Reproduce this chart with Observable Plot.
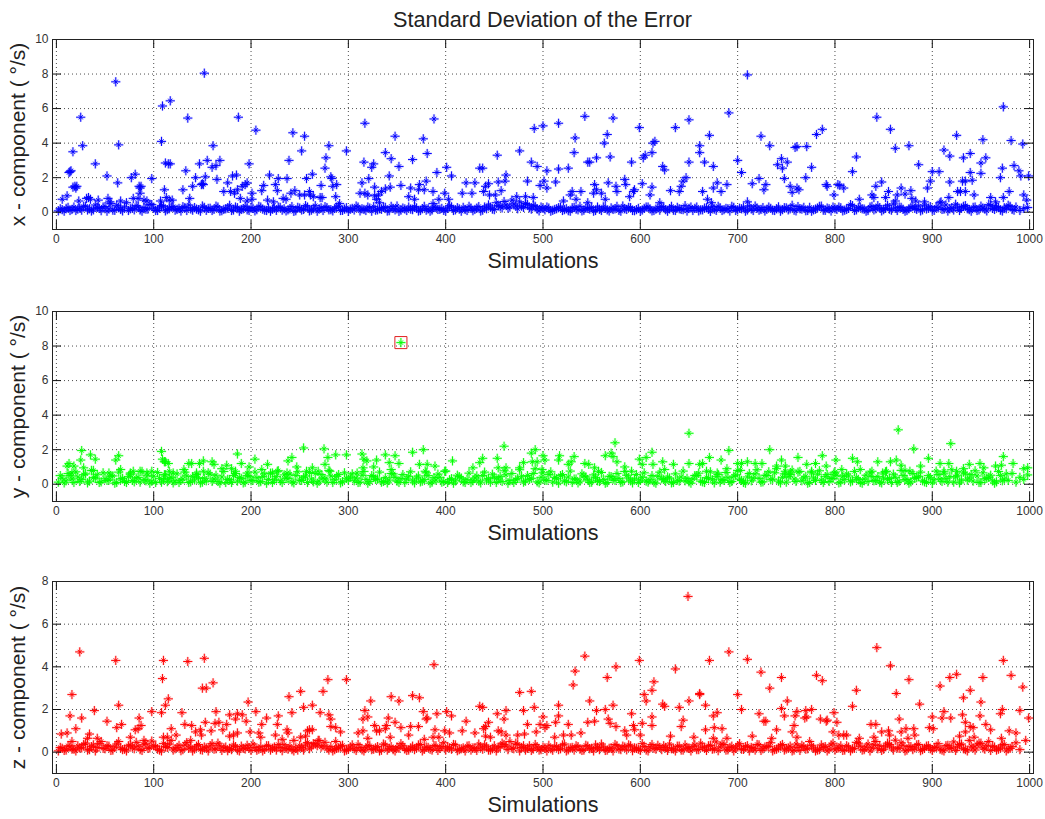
<!DOCTYPE html>
<html><head><meta charset="utf-8">
<script src="https://cdn.jsdelivr.net/npm/d3@7"></script>
<script src="https://cdn.jsdelivr.net/npm/@observablehq/plot@0.6"></script>
<style>
html,body{margin:0;padding:0;background:#fff;overflow:hidden}
#title{height:30px;margin-left:52px;width:981px;box-sizing:border-box;padding-top:8px;text-align:center;font:21.7px/24px "Liberation Sans",sans-serif;color:#222}
svg{display:block}
</style></head><body>
<div id="title">Standard Deviation of the Error</div>
<script>
const simTicks=[0,100,200,300,400,500,600,700,800,900,1000];
const xTicksY=[0,2,4,6,8,10], yTicksY=[0,2,4,6,8,10], zTicksY=[0,2,4,6,8];
const xLabel="x - component ( °/s)", yLabel="y - component ( °/s)", zLabel="z - component ( °/s)";

const xPeaks=[[6,.75],[11,.95],[13,2.3],[14,2.35],[15,2.4],[17,3.5],[17,1.45],[19,1.5],[20,1.4],[21,1.5],[25,5.5],[27,3.85],[23,.65],[31,.8],[33,.85],[35,.75],[40,2.8],[43,.7],[52,2.1],[53,.8],[55,.6],[61,7.55],[63,1.7],[64,3.9],[66,.65],[77,2],[81,2.2],[79,.8],[85,1.5],[86,1.4],[87,1.5],[86,1.1],[84,.8],[90,.7],[93,.65],[98,1.95],[107,.65],[108,4.1],[109,6.15],[111,1.3],[112,2.85],[115,2.8],[117,2.8],[113,.85],[116,.7],[119,.7],[117,6.45],[130,1.3],[133,2.4],[135,5.45],[137,.8],[140,1.5],[143,2],[147,2.8],[149,1.6],[150,1.65],[151,1.6],[152,8.05],[153,2.05],[155,3],[160,2.6],[161,3.85],[164,2.7],[165,1.9],[168,3],[172,1.2],[176,1.7],[179,1.2],[181,2.1],[183,1.1],[185,2.15],[186,1.3],[187,5.5],[189,.8],[191,1.5],[194,1.6],[196,1.7],[196,.65],[198,2.8],[201,1.1],[201,.75],[205,4.75],[211,1.25],[213,1.55],[217,.7],[219,2.15],[223,.6],[225,1.6],[227,1.25],[228,1.95],[233,.8],[236,.75],[237,1.95],[239,3],[241,1.1],[243,4.6],[245,1.25],[250,1],[252,3.55],[255,4.4],[255,1],[257,1.95],[260,1.2],[261,1],[263,2.2],[264,.9],[272,1.55],[271,.85],[273,.85],[276,2.55],[277,3.15],[280,3.85],[282,2.05],[283,1.95],[284,1.5],[287,.9],[288,1.6],[291,.5],[298,3.55],
[317,5.15],[316,2.9],[326,2.8],[324,2.6],[321,1.95],[314,1.7],[312,1.1],[317,1.1],[320,1],[327,1.45],[334,1.2],[331,1],[327,.95],[329,.75],[332,.55],[338,3.45],[344,3.1],[352,2.65],[348,4.4],[342,2.1],[343,1.45],[338,1.35],[354,1.55],[362,.9],[364,1.4],[368,.75],[373,1.6],[372,1.3],[378,1.3],[380,1.8],[366,3.05],[377,4.25],[381,3.4],[388,5.4],[391,2.3],[387,1.2],[393,.75],[399,1.1],[403,.75],[401,2.6],[406,2.1],[387,.5],[417,1.1],[421,1.7],[427,1.1],[430,1.7],[435,2.55],[438,2.55],[439,1.2],[441,1.5],[444,1.65],[445,1],[451,1],[457,1.25],[454,1.75],[453,3.3],[461,1.8],[462,2.15],[473,.9],[476,3.55],[482,.9],[490,.85],[484,1.8],[488,2.9],[494,2.65],[491,4.85],[500,5],[497,1.55],[501,1.8],[504,1.4],[504,2.4],[516,5.15],[516,2.5],[526,2.55],[513,1.75],[533,4.3],[532,3.45],[528,1],[530,1.2],[539,1.2],[534,.75],[521,.65],[543,5.55],[546,2.9],[548,2.9],[555,3.15],[553,1.6],[555,1.3],[552,1.1],[560,1.1],[564,.75],[546,.55],[563,4],[566,4.5],[572,5.45],[569,3.2],[567,1.7],[575,1.5],[576,1.2],[584,1.9],[585,1.6],[591,2.9],[589,.9],[593,1.2],[594,1.3],[599,4.9],[602,1.65],[603,3.15],[605,3.3],[612,3.45],[613,4],[615,4.1],[612,1.45],[610,1],[620,.55],[623,2.65],[625,2.45],[631,1.25],[636,4.9],[640,1.2],[642,1.5],[644,1.8],[647,2],[650,2.9],[650,5.35],
[661,3.85],[661,3.45],[671,4.45],[666,2.9],[675,2.65],[664,1.2],[669,.75],[673,.55],[675,1.4],[679,1.7],[683,1.2],[689,1.6],[691,5.75],[700,3],[704,2.3],[710,7.95],[710,.6],[715,1.65],[722,1.95],[724,4.4],[727,1.3],[729,1.6],[733,3.85],[741,2.75],[745,3.1],[746,2.55],[751,2.9],[748,1.95],[754,1.5],[756,1.15],[761,1.4],[763,1.3],[759,3.75],[761,3.8],[771,3.8],[770,2],[776,2.6],[781,4.5],[787,4.8],[791,1.6],[792,1.5],[799,1],[803,1.6],[805,1.55],[809,1.4],[818,2.35],[822,3.2],[825,.75],[838,1],[840,.85],[842,1.5],[848,1.75],[843,5.5],[857,4.8],[862,3.7],[852,.85],[855,1.2],[862,.65],[864,1],[868,1.4],[872,1.05],[878,1.25],[879,.8],[876,3.85],[883,.65],[886,2.75],[892,.6],[895,1.4],[898,1.8],[900,2.35],[907,2.35],[909,.6],[917,.85],[918,1.75],[912,3.6],[918,3.25],[925,4.45],[926,1.2],[929,1.2],[934,1.2],[931,1.8],[934,1.8],[932,3.15],[939,3.4],[939,2.3],[941,1.85],[943,1],[950,2.25],[950,2.85],[955,3.15],[952,4.2],[960,.85],[965,.6],[970,2],[972,2.55],[973,.85],[973,6.1],[979,1.2],[981,4.15],[984,2.7],[989,2.4],[991,2.1],[993,3.95],[994,1],[997,.7],[999,2.1]];

const yPeaks=[[26,1.95],[35,1.7],[40,1.45],[25,1.4],[28,.95],[38,.8],[11,1.05],[13,1.2],[18,1.05],[16,.65],[61,1.4],[64,1.65],[66,.85],[54,.65],[76,.65],[79,.75],[86,.75],[93,.65],[98,.75],[108,1.9],[109,1.45],[111,1.3],[112,1.3],[115,1.2],[111,.55],[116,.75],[120,.65],[131,.85],[136,1.2],[139,1.2],[147,1.2],[151,1.35],[160,1.3],[162,1.15],[151,.75],[144,.65],[170,.9],[175,1.1],[180,.9],[184,.75],[186,1.75],[190,1.2],[198,1],[196,.65],[204,1.45],[211,.85],[217,1.15],[222,.65],[227,.75],[237,.65],[238,1.35],[242,1.55],[247,1],[254,2.1],[257,.75],[263,.95],[269,.75],[275,2.05],[276,1.15],[279,1.55],[281,.75],[287,1.7],[298,1.7],[309,.65],
[314,1.75],[316,1.45],[319,1.35],[315,.95],[326,1],[329,1.4],[338,1.7],[342,1.25],[348,1.65],[352,1.2],[344,.85],[366,1.85],[377,2],[373,1.15],[381,1.15],[389,1.05],[379,.75],[399,.75],[407,1.35],[428,.95],[435,1.25],[438,1.5],[453,1.5],[454,.95],[462,.95],[460,2.2],[476,.95],[480,1.25],[488,1.8],[492,2],[489,1.3],[494,1.3],[500,1.65],[502,1.4],[499,.85],[516,1.4],[517,1.65],[526,1.15],[529,1.3],[532,1.6],[543,1.2],[547,1.15],[553,.95],[557,.75],[564,1.65],[570,1.8],[572,1.6],[574,2.4],[576,1.3],[584,1],[591,.75],[599,1.45],[602,1.15],[606,1.55],[612,1.85],[613,1.15],[623,1.3],[634,1.15],[650,2.95],[650,1.2],[625,.85],
[661,1.15],[664,1.2],[671,1.55],[683,1.4],[691,1.95],[689,.9],[668,.75],[679,.65],[700,1.2],[704,1.2],[703,.8],[710,1.3],[718,1.2],[725,1.2],[733,2],[740,1.05],[745,1.4],[749,1.05],[762,1.55],[771,1.15],[780,1.2],[787,1.65],[791,1.05],[776,.75],[799,.65],[801,1.4],[807,.85],[818,1.5],[823,1.3],[826,.85],[844,1.3],[857,1.3],[863,1.4],[865,3.15],[868,1.1],[881,2.05],[888,1.05],[896,1.5],[908,1.2],[917,1.2],[919,2.35],[938,1.15],[949,1.2],[953,.95],[965,1.05],[971,1.1],[973,1.6],[983,1.2],[994,.9],[998,.95],[925,.75],[932,.9],[912,.75],[877,.75],[872,.8],[853,.75],[838,.75],[849,.65],[749,.75],[754,.65]];
const yOutlier=[[354,8.2]];

const zPeaks=[[5,.85],[11,.9],[14,1.7],[16,2.7],[20,1.1],[24,4.7],[26,1.6],[16,.5],[34,.85],[32,.65],[39,1.95],[42,.65],[52,1.45],[61,4.3],[62,1.15],[64,2.2],[67,1.3],[76,.7],[81,1.05],[84,1.1],[85,1.6],[87,1.25],[90,.55],[98,1.9],[108,1.85],[109,3.45],[110,4.3],[112,2.2],[115,2.5],[110,.7],[114,.7],[118,1.1],[123,.8],[129,1.85],[132,1.3],[135,4.25],[139,1.25],[143,.95],[138,.55],[148,1.05],[149,.8],[150,3],[152,4.4],[153,1.4],[154,3],[159,1],[161,3.25],[163,1.35],[164,1.9],[167,1.4],[171,1.05],[175,1.3],[178,1.75],[178,.75],[184,1.55],[186,1.8],[191,1.75],[182,.8],[186,.9],[195,1.45],[197,2.35],[199,.95],[205,1.9],[208,.9],[210,.7],[211,1.3],[216,1.6],[225,.8],[227,1.3],[228,1.7],[232,.6],[237,1.05],[238,.9],[239,2.6],[242,1.85],[244,.55],[251,.7],[251,2.85],[254,2.1],[256,.75],[258,1],[260,1.05],[263,1.05],[263,2.2],[269,.55],[271,1.85],[274,2.85],[279,3.4],[280,1.75],[282,1.55],[282,1.2],[287,1.15],[292,.95],[287,.5],[298,3.4],
[310,.9],[315,1],[320,.65],[317,1.95],[315,1.55],[320,1.65],[323,2.4],[327,1.25],[329,1],[332,1],[338,1.1],[339,1.25],[341,1.6],[343,.7],[344,2.6],[348,1.4],[352,2.4],[354,1.15],[362,.8],[364,1.2],[366,2.65],[372,1.2],[373,2.55],[377,1.9],[378,.6],[380,1.55],[381,1.6],[389,1.05],[387,.7],[388,4.1],[391,1.8],[393,.7],[399,1],[401,1.9],[406,1.7],[404,.9],[417,1],[421,1.45],[430,.9],[435,2.15],[438,2.1],[439,1.1],[441,1.2],[444,1.4],[441,.75],[446,.7],[454,1],[453,1.8],[457,.95],[460,1.55],[462,1.95],[462,.8],[474,.8],[476,2.8],[480,1.95],[481,.85],[484,1.3],[488,2.85],[491,2.1],[493,.95],[497,1.3],[500,1.65],[502,1.15],[504,1.25],[513,1.4],[512,.7],[516,1.7],[516,2.2],[521,.8],[526,1.3],[529,.8],[531,3.15],[533,3.8],[539,.9],[543,4.5],[546,1.4],[548,2.4],[553,1.45],[555,1.95],[564,2],[566,3.5],[567,1.55],[569,1.35],[572,2.2],[575,4],[575,1.2],[584,1],[586,.8],[591,1.8],[593,1.25],[594,1.05],[599,4.3],[600,.8],[602,1.35],[604,2.7],[606,2.4],[612,2.9],[614,3.3],[612,1.65],[612,1.25],[623,2.25],[625,2.15],[631,.75],[636,3.9],[640,2.1],[644,1.5],[642,1.2],[650,2.4],[649,7.3],
[655,.7],[661,2.75],[661,2.7],[667,2.2],[667,1.05],[671,4.3],[675,.65],[675,1.7],[676,1.15],[679,1.85],[684,1.1],[689,.65],[691,4.7],[700,2.7],[704,2],[710,4.35],[715,.75],[722,1.8],[724,3.75],[727,1.45],[729,1.45],[733,3],[735,.65],[740,1.05],[745,3.5],[745,2.05],[748,1.7],[751,2.4],[756,.95],[758,1.25],[759,1.7],[761,1.9],[761,.7],[770,1.95],[769,1.6],[771,1.65],[776,2],[781,3.6],[787,3.35],[785,1.55],[791,1.45],[792,1.5],[799,1.85],[798,.95],[802,1.4],[804,.8],[809,.8],[812,.8],[818,2.15],[822,2.9],[825,.65],[837,1.3],[842,1.3],[840,.7],[843,4.9],[848,.95],[855,1],[856,.8],[857,4.05],[863,2.75],[866,1.55],[868,.95],[873,1.1],[876,3.4],[875,.65],[881,1.1],[882,.8],[887,2.25],[897,1.15],[900,1.65],[901,1.1],[908,3.1],[910,1.6],[912,1.9],[918,3.5],[919,1.6],[925,3.65],[928,.75],[931,1.75],[932,2.55],[934,1.4],[934,.95],[939,2.9],[939,1.2],[942,1.15],[943,.7],[949,1.7],[950,2.35],[952,3.5],[955,1.3],[960,1.05],[970,1.8],[972,2],[971,.65],[973,4.3],[979,1],[981,3.6],[986,.9],[990,1.95],[993,3.05],[996,.55],[999,1.6]];

// Low bands: readings every fourth simulation (A from 2, B from 4)
const xBandA=[.08,.15,.22,.1,.3,.18,.12,.35,.2,.14,.28,.09,.33,.2,.12,.4,.16,.3,.1,.24,.38,.13,.27,.18,.44,.1,.25,.35,.15,.29,.12,.22,.32,.1,.19,.27,.14,.36,.11,.23,.17,.3,.09,.2,.4,.13,.26,.16,.34,.1,.22,.15,.3,.12,.25,.18,.11,.28,.2,.14,.33,.09,.24,.16,.3,.12,.38,.19,.1,.27,.15,.22,.35,.11,.26,.18,.13,.3,.2,.1,.24,.32,.14,.17,.28,.09,.22,.36,.12,.19,.3,.15,.25,.1,.34,.2,.13,.27,.17,.11,.23,.31,.14,.19,.28,.1,.24,.16,.33,.12,.2,.29,.15,.38,.25,.42,.3,.48,.2,.35,.5,.26,.4,.18,.3,.14,.24,.11,.2,.3,.15,.09,.26,.18,.34,.12,.22,.28,.1,.17,.31,.14,.25,.2,.11,.36,.16,.27,.09,.22,.13,.3,.19,.1,.25,.33,.15,.2,.12,.28,.16,.38,.22,.1,.3,.14,.24,.18,.32,.11,.26,.15,.2,.34,.1,.23,.29,.13,.19,.36,.12,.27,.17,.22,.1,.31,.15,.25,.2,.12,.33,.18,.09,.28,.14,.24,.35,.11,.2,.3,.16,.26,.12,.22,.38,.14,.3,.18,.1,.34,.2,.26,.15,.4,.12,.24,.3,.17,.1,.28,.22,.36,.14,.19,.32,.11,.25,.16,.42,.2,.13,.3,.24,.38,.15,.28,.1,.35,.18,.44,.22,.32,.12,.26,.4,.16,.3,.1,.22,.27,.14,.33,.19,.11,.25,.3,.15];
const xBandB=[.2,.06,.28,.16,.1,.24,.34,.13,.07,.42,.22,.3,.06,.5,.11,.26,.08,.55,.2,.14,.3,.06,.18,.46,.24,.1,.38,.08,.2,.32,.16,.07,.27,.42,.12,.18,.06,.28,.22,.1,.35,.07,.16,.24,.1,.3,.06,.2,.14,.27,.08,.34,.18,.1,.06,.24,.3,.12,.08,.2,.05,.28,.13,.38,.08,.2,.06,.26,.32,.14,.08,.3,.1,.18,.06,.22,.36,.08,.16,.3,.06,.12,.2,.28,.07,.34,.14,.05,.24,.1,.18,.32,.07,.2,.12,.06,.3,.16,.22,.08,.38,.1,.26,.06,.16,.34,.09,.24,.07,.3,.42,.18,.55,.32,.62,.24,.7,.36,.6,.28,.46,.18,.34,.08,.22,.3,.06,.16,.26,.1,.2,.06,.28,.14,.08,.24,.18,.06,.3,.1,.22,.07,.16,.34,.06,.2,.28,.1,.15,.07,.22,.3,.08,.18,.12,.26,.06,.34,.1,.2,.15,.07,.3,.22,.08,.14,.26,.05,.18,.34,.1,.22,.07,.28,.14,.2,.06,.36,.1,.24,.16,.07,.3,.12,.2,.06,.26,.14,.4,.08,.2,.28,.1,.06,.18,.34,.12,.24,.07,.2,.3,.08,.16,.44,.1,.26,.2,.06,.3,.14,.38,.08,.22,.18,.48,.1,.28,.06,.2,.34,.16,.08,.42,.24,.12,.3,.55,.18,.07,.26,.46,.1,.34,.2,.06,.3,.14,.24,.08,.38,.16,.28,.07,.2,.34,.12];
const yBandA=[.12,.35,.2,.5,.1,.42,.28,.6,.18,.38,.55,.14,.32,.24,.48,.1,.3,.16,.44,.22,.36,.12,.28,.52,.18,.1,.34,.26,.15,.4,.2,.1,.3,.48,.14,.25,.38,.12,.2,.58,.3,.16,.42,.1,.26,.5,.18,.34,.12,.46,.22,.38,.15,.6,.28,.1,.44,.2,.54,.32,.14,.5,.24,.4,.1,.3,.62,.18,.36,.12,.48,.26,.56,.15,.34,.42,.2,.1,.52,.28,.16,.44,.3,.12,.38,.24,.6,.18,.32,.1,.46,.2,.36,.14,.28,.5,.12,.24,.4,.16,.1,.32,.2,.44,.14,.28,.1,.36,.18,.5,.24,.12,.4,.3,.16,.54,.22,.1,.34,.46,.18,.28,.62,.14,.4,.24,.56,.12,.32,.5,.2,.42,.1,.3,.18,.48,.26,.12,.38,.16,.28,.1,.44,.22,.34,.14,.52,.2,.3,.1,.4,.18,.26,.12,.46,.32,.16,.36,.1,.24,.42,.2,.14,.3,.5,.18,.1,.34,.26,.44,.12,.22,.38,.16,.54,.3,.1,.42,.2,.6,.34,.14,.5,.26,.66,.18,.4,.12,.56,.3,.7,.2,.46,.1,.36,.58,.24,.44,.16,.34,.52,.12,.28,.48,.2,.38,.1,.3,.16,.44,.22,.12,.36,.26,.1,.4,.18,.5,.28,.14,.34,.46,.2,.1,.38,.26,.56,.16,.32,.44,.12,.52,.24,.6,.36,.18,.48,.1,.3,.4,.2,.14,.5,.3,.22,.62,.12,.4,.28,.54];
const yBandB=[.5,.08,.62,.3,.72,.16,.55,.08,.8,.36,.1,.66,.22,.48,.06,.7,.34,.1,.58,.14,.4,.74,.2,.06,.46,.68,.12,.54,.32,.08,.6,.24,.7,.1,.44,.56,.08,.34,.66,.16,.52,.06,.74,.28,.1,.62,.38,.08,.5,.2,.7,.12,.44,.06,.64,.26,.78,.1,.36,.58,.08,.72,.22,.48,.68,.14,.06,.56,.3,.8,.1,.46,.08,.66,.24,.6,.36,.12,.74,.06,.5,.28,.7,.16,.08,.62,.4,.1,.56,.3,.72,.08,.48,.18,.66,.06,.38,.58,.12,.76,.26,.06,.52,.36,.1,.64,.2,.48,.08,.7,.32,.58,.1,.44,.78,.06,.62,.26,.84,.12,.5,.34,.9,.08,.66,.22,.72,.4,.06,.56,.14,.76,.3,.08,.6,.42,.1,.54,.2,.68,.06,.46,.3,.62,.1,.74,.36,.08,.56,.24,.66,.12,.5,.06,.7,.28,.42,.08,.6,.18,.76,.34,.06,.5,.64,.14,.38,.72,.08,.56,.28,.68,.1,.46,.8,.22,.06,.62,.36,.84,.12,.52,.72,.3,.9,.08,.6,.44,.82,.16,.74,.36,.06,.66,.22,.78,.1,.56,.34,.7,.08,.46,.6,.14,.74,.28,.06,.52,.66,.2,.44,.08,.72,.34,.58,.1,.8,.26,.06,.62,.38,.7,.14,.5,.08,.76,.3,.64,.12,.84,.42,.08,.7,.24,.56,.78,.1,.66,.34,.52,.06,.74,.2,.6];
const zBandA=[.06,.18,.1,.25,.14,.3,.2,.42,.12,.34,.22,.5,.16,.28,.1,.38,.2,.14,.3,.24,.46,.12,.35,.18,.52,.28,.1,.4,.22,.55,.16,.32,.12,.45,.25,.15,.36,.1,.2,.3,.14,.42,.08,.24,.18,.34,.1,.28,.15,.2,.38,.09,.26,.13,.3,.18,.1,.22,.35,.14,.12,.2,.3,.1,.45,.25,.38,.55,.3,.18,.26,.12,.2,.32,.1,.24,.16,.36,.11,.2,.3,.14,.26,.09,.34,.18,.12,.24,.4,.15,.1,.28,.2,.36,.13,.22,.1,.3,.18,.44,.24,.14,.34,.12,.2,.28,.1,.18,.38,.14,.25,.1,.3,.2,.42,.28,.5,.16,.36,.22,.1,.3,.15,.24,.12,.2,.32,.09,.26,.16,.38,.11,.22,.3,.14,.1,.28,.18,.34,.12,.24,.1,.2,.36,.15,.28,.11,.3,.2,.14,.4,.1,.25,.18,.32,.12,.22,.38,.15,.28,.1,.34,.19,.26,.12,.42,.2,.3,.14,.48,.24,.36,.11,.28,.18,.4,.13,.3,.22,.1,.34,.16,.26,.44,.12,.2,.36,.15,.28,.1,.22,.32,.14,.5,.2,.1,.34,.26,.14,.42,.18,.3,.1,.24,.16,.46,.28,.12,.38,.2,.5,.3,.14,.42,.24,.56,.18,.32,.1,.26,.2,.36,.12,.28,.16,.22,.4,.1,.3,.18,.48,.25,.38,.12,.55,.2,.34,.42,.14,.5,.28,.1,.2,.36,.15,.26,.44,.12];
const zBandB=[.22,.08,.3,.14,.06,.2,.36,.1,.26,.06,.4,.18,.3,.08,.24,.5,.12,.06,.34,.16,.28,.08,.42,.2,.3,.14,.06,.26,.38,.1,.22,.07,.34,.18,.06,.28,.12,.24,.06,.4,.16,.3,.2,.07,.12,.26,.06,.18,.32,.08,.22,.14,.06,.3,.1,.24,.36,.07,.18,.28,.06,.1,.22,.34,.16,.4,.3,.24,.46,.1,.06,.18,.28,.06,.14,.34,.08,.22,.06,.3,.12,.2,.06,.38,.1,.26,.06,.18,.3,.08,.2,.12,.34,.06,.24,.14,.3,.08,.26,.1,.2,.36,.07,.16,.06,.3,.2,.08,.24,.34,.1,.16,.06,.26,.36,.12,.2,.42,.06,.3,.18,.08,.36,.1,.24,.06,.16,.28,.12,.34,.06,.2,.1,.26,.08,.32,.16,.06,.22,.38,.08,.18,.06,.3,.12,.24,.34,.07,.18,.08,.26,.06,.36,.14,.22,.3,.08,.16,.06,.28,.1,.2,.06,.34,.12,.24,.08,.32,.16,.07,.38,.1,.22,.06,.3,.14,.26,.06,.18,.36,.08,.24,.28,.06,.14,.3,.1,.2,.06,.38,.08,.26,.16,.32,.06,.12,.22,.06,.34,.1,.2,.08,.3,.06,.18,.42,.1,.24,.06,.34,.16,.08,.28,.36,.1,.2,.44,.06,.26,.12,.34,.07,.18,.3,.08,.24,.14,.06,.32,.2,.08,.36,.16,.06,.28,.1,.42,.2,.3,.08,.24,.14,.34,.06,.18];

const bandRows=(band,start)=>band.map((v,i)=>[start+i*4,v]).filter(d=>d[0]<=1000);
const starSymbol={draw(ctx,size){
  const l=Math.sqrt(size/Math.PI), d=l*0.45;
  ctx.moveTo(-l,0);ctx.lineTo(l,0);
  ctx.moveTo(0,-l);ctx.lineTo(0,l);
  ctx.moveTo(-d,-d);ctx.lineTo(d,d);
  ctx.moveTo(-d,d);ctx.lineTo(d,-d);
}};
const FRAME_W=981, TICK=9;
function panel({peaks,bandA,bandB,color,domain,ticks,label,height,marginTop,extra=[]}){
  const rows=[...bandRows(bandB,4),...bandRows(bandA,2),...peaks];
  const marginBottom=46, frameH=height-marginTop-marginBottom;
  const dotOpts={x:d=>d[0],y:d=>d[1],r:4.6,symbol:starSymbol,stroke:color,fill:"none"};
  const tickOpts={stroke:"#111",strokeWidth:1};
  const gridOpts={stroke:"#000",strokeOpacity:.7,strokeDasharray:"1,3"};
  return Plot.plot({
    width:1045,height,marginLeft:52,marginRight:12,marginTop,marginBottom,
    style:{background:"#fff",fontFamily:'"Liberation Sans",sans-serif'},
    x:{domain:[-4,1004],label:null},
    y:{domain,label:null},
    marks:[
      Plot.gridX(simTicks,gridOpts),
      Plot.gridY(ticks,gridOpts),
      Plot.dot(rows,{...dotOpts,strokeWidth:2.6,strokeOpacity:.16}),
      Plot.dot(rows,{...dotOpts,strokeWidth:1,strokeOpacity:.95}),
      ...extra,
      Plot.axisX(simTicks,{anchor:"bottom",tickSize:0,tickPadding:5,fontSize:12,fill:"#333",label:null,tickFormat:d=>`${d}`}),
      Plot.axisY(ticks,{anchor:"left",tickSize:0,tickPadding:4,fontSize:12,fill:"#333",label:null,tickFormat:d=>`${d}`}),
      Plot.text(["Simulations"],{frameAnchor:"bottom",lineAnchor:"middle",dy:32,fontSize:21.5,fill:"#222"}),
      Plot.text([label],{frameAnchor:"left",textAnchor:"middle",lineAnchor:"middle",dx:-34,rotate:-90,fontSize:21,fill:"#222"}),
      Plot.ruleX(simTicks,{...tickOpts,insetTop:frameH-TICK}),
      Plot.ruleX(simTicks,{...tickOpts,insetBottom:frameH-TICK}),
      Plot.ruleY(ticks,{...tickOpts,insetRight:FRAME_W-TICK}),
      Plot.ruleY(ticks,{...tickOpts,insetLeft:FRAME_W-TICK}),
      Plot.frame({stroke:"#222"})
    ]
  });
}
document.body.append(
  panel({peaks:xPeaks,bandA:xBandA,bandB:xBandB,color:"#0000ff",domain:[-1,10],ticks:xTicksY,label:xLabel,height:245,marginTop:9}),
  panel({peaks:[...yPeaks,...yOutlier],bandA:yBandA,bandB:yBandB,color:"#00ff00",domain:[-1,10],ticks:yTicksY,label:yLabel,height:272,marginTop:36,
    extra:[Plot.dot(yOutlier,{x:d=>d[0],y:d=>d[1],r:6.8,symbol:"square",stroke:"#e02020",strokeWidth:1,fill:"none"})]}),
  panel({peaks:zPeaks,bandA:zBandA,bandB:zBandB,color:"#ff0000",domain:[-1,8],ticks:zTicksY,label:zLabel,height:272,marginTop:34})
);
</script>
</body></html>
